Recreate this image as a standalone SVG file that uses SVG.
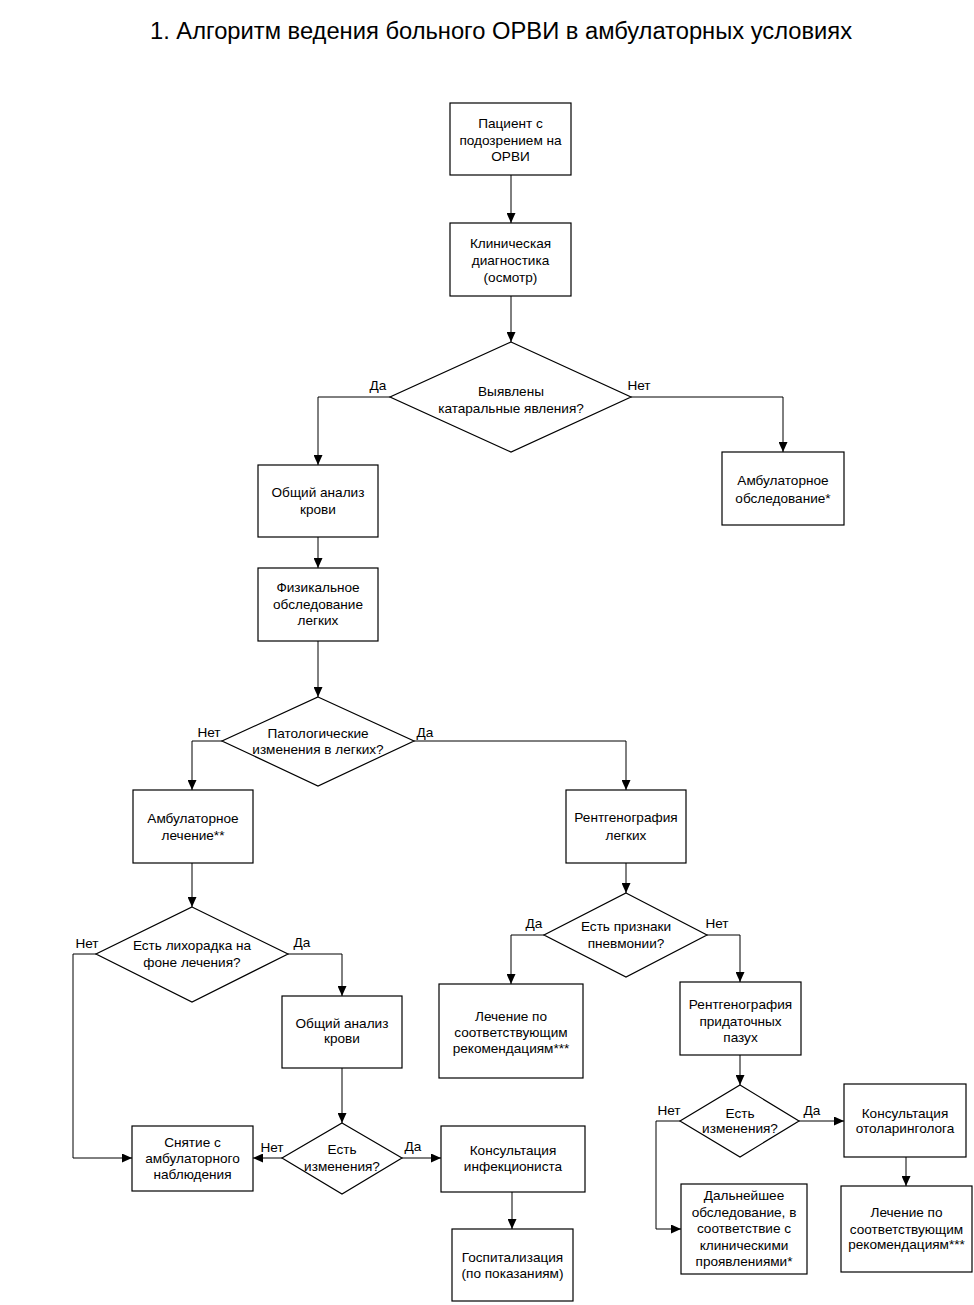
<svg xmlns="http://www.w3.org/2000/svg" width="974" height="1305" viewBox="0 0 974 1305">
<defs>
<style>
.b{fill:#fff;stroke:#000;stroke-width:1.2}
.t{font-family:"Liberation Sans",Arial,sans-serif;font-size:13.6px;fill:#000;text-anchor:middle}
.c{fill:none;stroke:#000;stroke-width:1}
.title{font-family:"Liberation Sans",Arial,sans-serif;font-size:23.5px;fill:#000;text-anchor:middle}
</style>
<marker id="a" markerUnits="userSpaceOnUse" markerWidth="10" markerHeight="9" refX="10" refY="4.5" orient="auto">
<path d="M0,0 L10,4.5 L0,9 z" fill="#000"/>
</marker>
</defs>
<rect width="974" height="1305" fill="#fff"/>
<text class="title" x="501" y="39" textLength="702" lengthAdjust="spacingAndGlyphs">1. Алгоритм ведения больного ОРВИ в амбулаторных условиях</text>

<g id="connectors">
<path class="c" d="M511,175 V223" marker-end="url(#a)"/>
<path class="c" d="M511,296 V342" marker-end="url(#a)"/>
<path class="c" d="M390,397 H318 V465" marker-end="url(#a)"/>
<path class="c" d="M631,397 H783 V452" marker-end="url(#a)"/>
<path class="c" d="M318,537 V568" marker-end="url(#a)"/>
<path class="c" d="M318,641 V697" marker-end="url(#a)"/>
<path class="c" d="M222,741 H192 V790" marker-end="url(#a)"/>
<path class="c" d="M414,741 H626 V790" marker-end="url(#a)"/>
<path class="c" d="M192,863 V907" marker-end="url(#a)"/>
<path class="c" d="M96,954 H73 V1158 H132" marker-end="url(#a)"/>
<path class="c" d="M288,954 H342 V996" marker-end="url(#a)"/>
<path class="c" d="M342,1068 V1123" marker-end="url(#a)"/>
<path class="c" d="M282,1158 H253" marker-end="url(#a)"/>
<path class="c" d="M402,1158 H441" marker-end="url(#a)"/>
<path class="c" d="M512,1192 V1229" marker-end="url(#a)"/>
<path class="c" d="M626,863 V893" marker-end="url(#a)"/>
<path class="c" d="M544,935 H511 V984" marker-end="url(#a)"/>
<path class="c" d="M707,935 H740 V982" marker-end="url(#a)"/>
<path class="c" d="M740,1055 V1085" marker-end="url(#a)"/>
<path class="c" d="M680,1121 H656 V1229 H681" marker-end="url(#a)"/>
<path class="c" d="M799,1121 H844" marker-end="url(#a)"/>
<path class="c" d="M906,1157 V1186" marker-end="url(#a)"/>
</g>

<g id="labels">
<text class="t" x="378" y="390">Да</text>
<text class="t" x="639" y="390">Нет</text>
<text class="t" x="209" y="737">Нет</text>
<text class="t" x="425" y="737">Да</text>
<text class="t" x="87" y="948">Нет</text>
<text class="t" x="302" y="947">Да</text>
<text class="t" x="272" y="1152">Нет</text>
<text class="t" x="413" y="1151">Да</text>
<text class="t" x="534" y="928">Да</text>
<text class="t" x="717" y="928">Нет</text>
<text class="t" x="669" y="1115">Нет</text>
<text class="t" x="812" y="1115">Да</text>
</g>

<g id="n1"><rect class="b" x="450" y="103" width="121" height="72"/>
<text class="t" x="510.5" y="128">Пациент с</text><text class="t" x="510.5" y="145">подозрением на</text><text class="t" x="510.5" y="161">ОРВИ</text></g>

<g id="n2"><rect class="b" x="450" y="223" width="121" height="73"/>
<text class="t" x="510.5" y="248">Клиническая</text><text class="t" x="510.5" y="265">диагностика</text><text class="t" x="510.5" y="282">(осмотр)</text></g>

<g id="d1"><polygon class="b" points="511,342 631,397 511,452 390,397"/>
<text class="t" x="511" y="396">Выявлены</text><text class="t" x="511" y="413">катаральные явления?</text></g>

<g id="n3"><rect class="b" x="258" y="465" width="120" height="72"/>
<text class="t" x="318" y="497">Общий анализ</text><text class="t" x="318" y="514">крови</text></g>

<g id="n4"><rect class="b" x="722" y="452" width="122" height="73"/>
<text class="t" x="783" y="485">Амбулаторное</text><text class="t" x="783" y="503">обследование*</text></g>

<g id="n5"><rect class="b" x="258" y="568" width="120" height="73"/>
<text class="t" x="318" y="592">Физикальное</text><text class="t" x="318" y="609">обследование</text><text class="t" x="318" y="625">легких</text></g>

<g id="d2"><polygon class="b" points="318,697 414,741 318,786 222,741"/>
<text class="t" x="318" y="738">Патологические</text><text class="t" x="318" y="754">изменения в легких?</text></g>

<g id="n6"><rect class="b" x="133" y="790" width="120" height="73"/>
<text class="t" x="193" y="823">Амбулаторное</text><text class="t" x="193" y="840">лечение**</text></g>

<g id="n7"><rect class="b" x="566" y="790" width="120" height="73"/>
<text class="t" x="626" y="822">Рентгенография</text><text class="t" x="626" y="840">легких</text></g>

<g id="d3"><polygon class="b" points="192,907 288,954 192,1002 96,954"/>
<text class="t" x="192" y="950">Есть лихорадка на</text><text class="t" x="192" y="967">фоне лечения?</text></g>

<g id="n8"><rect class="b" x="282" y="996" width="120" height="72"/>
<text class="t" x="342" y="1028">Общий анализ</text><text class="t" x="342" y="1043">крови</text></g>

<g id="d4"><polygon class="b" points="342,1123 402,1158 342,1194 282,1158"/>
<text class="t" x="342" y="1154">Есть</text><text class="t" x="342" y="1171">изменения?</text></g>

<g id="n9"><rect class="b" x="132" y="1126" width="121" height="65"/>
<text class="t" x="192.5" y="1147">Снятие с</text><text class="t" x="192.5" y="1163">амбулаторного</text><text class="t" x="192.5" y="1179">наблюдения</text></g>

<g id="n10"><rect class="b" x="441" y="1126" width="144" height="66"/>
<text class="t" x="513" y="1155">Консультация</text><text class="t" x="513" y="1171">инфекциониста</text></g>

<g id="n11"><rect class="b" x="452" y="1229" width="121" height="72"/>
<text class="t" x="512.5" y="1262">Госпитализация</text><text class="t" x="512.5" y="1278">(по показаниям)</text></g>

<g id="d5"><polygon class="b" points="626,893 707,935 626,977 544,935"/>
<text class="t" x="626" y="931">Есть признаки</text><text class="t" x="626" y="948">пневмонии?</text></g>

<g id="n12"><rect class="b" x="439" y="984" width="144" height="94"/>
<text class="t" x="511" y="1021">Лечение по</text><text class="t" x="511" y="1037">соответствующим</text><text class="t" x="511" y="1053">рекомендациям***</text></g>

<g id="n13"><rect class="b" x="680" y="982" width="121" height="73"/>
<text class="t" x="740.5" y="1009">Рентгенография</text><text class="t" x="740.5" y="1026">придаточных</text><text class="t" x="740.5" y="1042">пазух</text></g>

<g id="d6"><polygon class="b" points="740,1085 799,1121 740,1157 680,1121"/>
<text class="t" x="740" y="1118">Есть</text><text class="t" x="740" y="1133">изменения?</text></g>

<g id="n14"><rect class="b" x="844" y="1084" width="122" height="73"/>
<text class="t" x="905" y="1118">Консультация</text><text class="t" x="905" y="1133">отоларинголога</text></g>

<g id="n15"><rect class="b" x="841" y="1186" width="131" height="86"/>
<text class="t" x="906.5" y="1217">Лечение по</text><text class="t" x="906.5" y="1234">соответствующим</text><text class="t" x="906.5" y="1249">рекомендациям***</text></g>

<g id="n16"><rect class="b" x="681" y="1184" width="126" height="90"/>
<text class="t" x="744" y="1200">Дальнейшее</text><text class="t" x="744" y="1217">обследование, в</text><text class="t" x="744" y="1233">соответствие с</text><text class="t" x="744" y="1250">клиническими</text><text class="t" x="744" y="1266">проявлениями*</text></g>
</svg>
